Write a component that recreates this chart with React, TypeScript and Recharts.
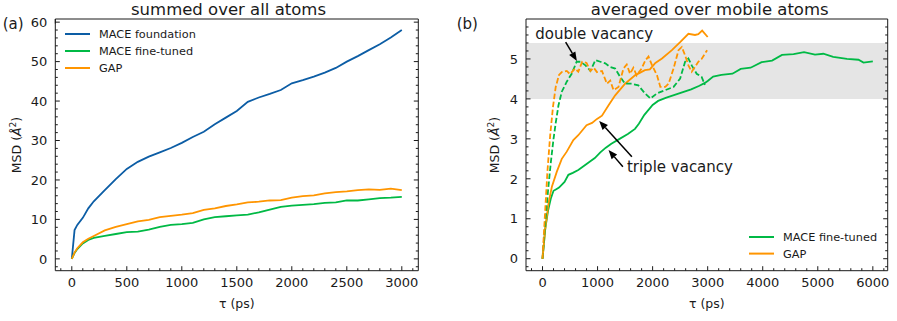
import React from 'react';
import {
  LineChart, Line, XAxis, YAxis, ReferenceArea, ReferenceLine, ReferenceDot, Legend, Label,
} from 'recharts';

// colours of the SciencePlots cycle
const BLUE = '#0C5DA5';
const GREEN = '#00B945';
const ORANGE = '#FF9500';
const INK = '#1a1a1a';
const FONT = '"DejaVu Sans", Verdana, sans-serif';

// ---- panel (a): summed over all atoms ----
const tauA = [0, 25, 50, 100, 150, 200, 300, 400, 500, 600, 700, 800, 900, 1000, 1100, 1200,
  1300, 1400, 1500, 1600, 1700, 1800, 1900, 2000, 2100, 2200, 2300, 2400, 2500, 2600, 2700, 2800, 2900, 3000];
const maceFoundationA = [0, 7.3, 8.6, 10.4, 12.8, 14.6, 17.4, 20.2, 22.8, 24.6, 25.9, 27, 28.1, 29.4, 30.9, 32.2,
  34.1, 35.8, 37.5, 39.8, 40.9, 41.8, 42.8, 44.5, 45.3, 46.2, 47.2, 48.4, 50, 51.4, 52.9, 54.4, 56.1, 58];
const maceFineTunedA = [0, 1.5, 2.5, 3.9, 4.8, 5.3, 5.8, 6.3, 6.8, 6.9, 7.4, 8.1, 8.6, 8.8, 9.1, 10,
  10.6, 10.8, 11, 11.2, 11.8, 12.5, 13.2, 13.5, 13.7, 13.9, 14.2, 14.3, 14.8, 14.8, 15.1, 15.4, 15.5, 15.7];
const gapA = [0, 1.6, 2.7, 4.2, 5.1, 5.8, 7.2, 8.1, 8.8, 9.5, 9.9, 10.6, 10.9, 11.2, 11.6, 12.4,
  12.8, 13.4, 13.8, 14.3, 14.5, 14.8, 14.9, 15.5, 15.9, 16.1, 16.6, 16.9, 17.1, 17.4, 17.6, 17.5, 17.8, 17.4];

const xMajorA = [0, 500, 1000, 1500, 2000, 2500, 3000];
const yMajorA = [0, 10, 20, 30, 40, 50, 60];

// ---- panel (b): averaged over mobile atoms ----
const tauMaceTriple = [0, 50, 100, 150, 200, 250, 300, 400, 470, 550, 650, 750, 850, 950, 1050, 1150, 1250,
  1400, 1550, 1680, 1750, 1850, 2000, 2100, 2250, 2400, 2550, 2700, 2850, 2950, 3000, 3100, 3250, 3450,
  3600, 3780, 3980, 4170, 4350, 4560, 4750, 4950, 5100, 5280, 5530, 5740, 5830, 6000];
const maceTriple = [0, 0.75, 1.2, 1.5, 1.7, 1.74, 1.78, 1.92, 2.1, 2.15, 2.22, 2.32, 2.42, 2.52, 2.66, 2.78, 2.88,
  3.0, 3.12, 3.25, 3.38, 3.6, 3.85, 3.95, 4.03, 4.1, 4.17, 4.24, 4.33, 4.4, 4.45, 4.56, 4.6, 4.63,
  4.75, 4.78, 4.92, 4.96, 5.1, 5.12, 5.17, 5.11, 5.13, 5.05, 5.0, 4.98, 4.91, 4.94];

const tauGapTriple = [0, 50, 110, 170, 260, 350, 440, 560, 650, 800, 900, 990, 1080, 1200, 1320, 1500, 1680,
  1860, 1950, 2050, 2170, 2350, 2500, 2650, 2770, 2830, 2900, 3000];
const gapTriple = [0, 0.75, 1.4, 1.8, 2.18, 2.5, 2.68, 2.97, 3.09, 3.34, 3.4, 3.5, 3.58, 3.84, 4.09, 4.38, 4.59,
  4.72, 4.74, 4.9, 5.01, 5.22, 5.42, 5.63, 5.6, 5.62, 5.71, 5.55];

const tauMaceDouble = [0, 50, 100, 150, 200, 240, 290, 350, 440, 530, 620, 690, 780, 870, 960, 1050, 1140, 1230,
  1320, 1410, 1500, 1620, 1740, 1860, 1960, 2080, 2230, 2380, 2500, 2590, 2650, 2710, 2800, 2890, 2950];
const maceDouble = [0, 0.9, 1.7, 2.4, 3.0, 3.4, 3.84, 4.18, 4.43, 4.63, 4.93, 4.93, 4.84, 4.7, 4.97, 4.93, 4.89, 4.8,
  4.76, 4.55, 4.38, 4.38, 4.34, 4.14, 4.01, 4.14, 4.22, 4.3, 4.51, 4.93, 5.01, 4.84, 4.63, 4.55, 4.35];

const tauGapDouble = [0, 40, 90, 140, 190, 240, 300, 350, 440, 500, 590, 650, 720, 800, 870, 930, 990, 1080, 1170,
  1230, 1290, 1380, 1470, 1530, 1590, 1650, 1710, 1800, 1870, 1925, 1990, 2080, 2140, 2230, 2290, 2380, 2470,
  2530, 2590, 2650, 2710, 2770, 2830, 2890, 2990];
const gapDouble = [0, 1.0, 2.2, 3.1, 3.8, 4.3, 4.6, 4.67, 4.7, 4.62, 4.76, 4.68, 4.93, 4.9, 4.7, 4.78, 4.67, 4.7, 4.38,
  4.46, 4.22, 4.3, 4.76, 4.86, 4.63, 4.78, 4.59, 4.76, 4.97, 5.06, 4.84, 4.59, 4.3, 4.3, 4.38, 4.76, 5.22,
  5.3, 5.09, 4.84, 4.68, 4.8, 4.93, 5.0, 5.22];

const xMajorB = [0, 1000, 2000, 3000, 4000, 5000, 6000];
const yMajorB = [0, 1, 2, 3, 4, 5];

const legendA = ['MACE foundation', 'MACE fine-tuned', 'GAP'];
const legendB = ['MACE fine-tuned', 'GAP'];

// ---- helpers ----
const range = (start: number, stop: number, step: number) => {
  const out: number[] = [];
  for (let i = 0; start + i * step <= stop + 1e-9; i++) out.push(+(start + i * step).toFixed(6));
  return out;
};
const zip = (xs: number[], ys: number[]) => xs.map((tau, i) => ({ tau, msd: ys[i] }));
const isIn = (list: number[], v: number) => list.some((m) => Math.abs(m - v) < 1e-6);

const rowsA = tauA.map((tau, i) => ({
  tau, foundation: maceFoundationA[i], fine: maceFineTunedA[i], gap: gapA[i],
}));

type Side = 'bottom' | 'top' | 'left' | 'right';

// inward ticks (major + minor), labels only on bottom/left majors
const makeTick = (side: Side, majors: number[]) => (p: any) => {
  const { x, y, payload } = p;
  const v = payload.value;
  const major = isIn(majors, v);
  const len = major ? 4.5 : 2.5;
  let line;
  if (side === 'bottom') line = <line x1={x} x2={x} y1={y} y2={y - len} stroke={INK} strokeWidth={1} />;
  else if (side === 'top') line = <line x1={x} x2={x} y1={y} y2={y + len} stroke={INK} strokeWidth={1} />;
  else if (side === 'left') line = <line x1={x} x2={x + len} y1={y} y2={y} stroke={INK} strokeWidth={1} />;
  else line = <line x1={x} x2={x - len} y1={y} y2={y} stroke={INK} strokeWidth={1} />;
  return (
    <g>
      {line}
      {major && side === 'bottom' && (
        <text x={x} y={y + 16} textAnchor="middle" fontSize={13} fontFamily={FONT} fill={INK}>{v}</text>
      )}
      {major && side === 'left' && (
        <text x={x - 8} y={y + 4.7} textAnchor="end" fontSize={13} fontFamily={FONT} fill={INK}>{v}</text>
      )}
    </g>
  );
};

const TopLabel = ({ title, cx, letterX }: { title: string; cx: number; letterX: number }) => (
  <g>
    <text x={cx} y={15.3} textAnchor="middle" fontSize={16.5} fontFamily={FONT} fill={INK}>{title}</text>
    <text x={letterX} y={28.7} fontSize={15} fontFamily={FONT} fill={INK}>{title.startsWith('summed') ? '(a)' : '(b)'}</text>
  </g>
);

const XLabel = ({ viewBox }: any) => (
  <text x={viewBox.x + viewBox.width / 2} y={viewBox.y + 37.5} textAnchor="middle" fontSize={12.5} fontFamily={FONT} fill={INK}>
    τ (ps)
  </text>
);

const YLabel = ({ cx }: { cx: number }) => (
  <text x={cx} y={145} transform={`rotate(-90 ${cx} 145)`} textAnchor="middle" dy="0.35em" fontSize={12.5} fontFamily={FONT} fill={INK}>
    MSD (<tspan fontStyle="italic">Å</tspan><tspan dy={-5} fontSize={9}>2</tspan><tspan dy={5}>)</tspan>
  </text>
);

const LegendBox = ({ payload, order, gap }: any) => {
  const items = [...(payload || [])]
    .filter((e: any) => order.includes(e.value))
    .sort((a: any, b: any) => order.indexOf(a.value) - order.indexOf(b.value));
  return (
    <svg width={150} height={60} style={{ display: 'block' }}>
      {items.map((e: any, i: number) => (
        <g key={e.value}>
          <line x1={5} x2={30} y1={10 + i * gap} y2={10 + i * gap} stroke={e.color} strokeWidth={2} />
          <text x={39} y={10 + i * gap} dy="0.36em" fontSize={11.3} fontFamily={FONT} fill={INK}>{e.value}</text>
        </g>
      ))}
    </svg>
  );
};

const Arrow = (p: any) => {
  const { x1, y1, x2, y2 } = p;
  const ang = Math.atan2(y2 - y1, x2 - x1);
  const hl = 9;
  const hw = 3.6;
  const bx = x2 - hl * Math.cos(ang);
  const by = y2 - hl * Math.sin(ang);
  const px = -Math.sin(ang) * hw;
  const py = Math.cos(ang) * hw;
  return (
    <g>
      <line x1={x1} y1={y1} x2={bx} y2={by} stroke="#000" strokeWidth={1.5} />
      <polygon points={`${x2},${y2} ${bx + px},${by + py} ${bx - px},${by - py}`} fill="#000" />
    </g>
  );
};

const Note = (text: string) => (p: any) => (
  <text x={p.cx} y={p.cy} fontSize={15} fontFamily={FONT} fill={INK}>{text}</text>
);

const W = 1.8;
const DASH = '5.5 2.5';

export default function App() {
  const xTicksA = range(-100, 3100, 100);
  const yTicksA = range(-2, 60, 2);
  const xTicksB = range(-200, 6200, 200);
  const yTicksB = range(-0.2, 5.8, 0.2);
  const domXA: [number, number] = [-150, 3150];
  const domYA: [number, number] = [-3, 60.8];
  const domXB: [number, number] = [-300, 6270];
  const domYB: [number, number] = [-0.3, 6.0];

  return (
    <div style={{ position: 'absolute', left: 0, top: 0, width: 897, height: 321, background: '#fff', fontFamily: FONT }}>
      <div style={{ position: 'absolute', left: 0, top: 0 }}>
        <LineChart width={440} height={321} data={rowsA} margin={{ top: 18, right: 20.7, bottom: 20.3, left: 15.3 }}>
          <XAxis dataKey="tau" type="number" domain={domXA} allowDataOverflow ticks={xTicksA} interval={0}
            tickSize={0} tickMargin={0} tickLine={false} height={30} axisLine={{ stroke: INK }}
            tick={makeTick('bottom', xMajorA)}>
            <Label content={XLabel} />
          </XAxis>
          <XAxis xAxisId="top" orientation="top" type="number" domain={domXA} allowDataOverflow ticks={xTicksA} interval={0}
            tickSize={0} tickMargin={0} tickLine={false} height={1} axisLine={{ stroke: INK }}
            tick={makeTick('top', xMajorA)}>
            <Label content={() => <TopLabel title="summed over all atoms" cx={228.5} letterX={2.7} />} />
          </XAxis>
          <YAxis type="number" domain={domYA} allowDataOverflow ticks={yTicksA} interval={0}
            tickSize={0} tickMargin={0} tickLine={false} width={40} axisLine={{ stroke: INK }}
            tick={makeTick('left', yMajorA)}>
            <Label content={() => <YLabel cx={16.3} />} />
          </YAxis>
          <YAxis yAxisId="right" orientation="right" type="number" domain={domYA} allowDataOverflow ticks={yTicksA} interval={0}
            tickSize={0} tickMargin={0} tickLine={false} width={1} axisLine={{ stroke: INK }}
            tick={makeTick('right', yMajorA)} />
          <Line dataKey="foundation" name="MACE foundation" stroke={BLUE} strokeWidth={W} dot={false} activeDot={false} isAnimationActive={false} />
          <Line dataKey="fine" name="MACE fine-tuned" stroke={GREEN} strokeWidth={W} dot={false} activeDot={false} isAnimationActive={false} />
          <Line dataKey="gap" name="GAP" stroke={ORANGE} strokeWidth={W} dot={false} activeDot={false} isAnimationActive={false} />
          <Legend layout="vertical" align="center" verticalAlign="middle"
            wrapperStyle={{ position: 'absolute', left: 60, top: 24, width: 150, height: 60 }}
            content={(p: any) => <LegendBox payload={p.payload} order={legendA} gap={17} />} />
        </LineChart>
      </div>

      <div style={{ position: 'absolute', left: 450, top: 0 }}>
        <LineChart width={447} height={321} margin={{ top: 18, right: 8.3, bottom: 20.3, left: 36 }}>
          <ReferenceArea y1={4} y2={5.4} fill="#e5e5e5" fillOpacity={1} stroke="none" />
          <XAxis dataKey="tau" type="number" domain={domXB} allowDataOverflow ticks={xTicksB} interval={0}
            tickSize={0} tickMargin={0} tickLine={false} height={30} axisLine={{ stroke: INK }}
            tick={makeTick('bottom', xMajorB)}>
            <Label content={XLabel} />
          </XAxis>
          <XAxis xAxisId="top" orientation="top" type="number" domain={domXB} allowDataOverflow ticks={xTicksB} interval={0}
            tickSize={0} tickMargin={0} tickLine={false} height={1} axisLine={{ stroke: INK }}
            tick={makeTick('top', xMajorB)}>
            <Label content={() => <TopLabel title="averaged over mobile atoms" cx={259.7} letterX={6.7} />} />
          </XAxis>
          <YAxis type="number" domain={domYB} allowDataOverflow ticks={yTicksB} interval={0}
            tickSize={0} tickMargin={0} tickLine={false} width={40} axisLine={{ stroke: INK }}
            tick={makeTick('left', yMajorB)}>
            <Label content={() => <YLabel cx={44.7} />} />
          </YAxis>
          <YAxis yAxisId="right" orientation="right" type="number" domain={domYB} allowDataOverflow ticks={yTicksB} interval={0}
            tickSize={0} tickMargin={0} tickLine={false} width={1} axisLine={{ stroke: INK }}
            tick={makeTick('right', yMajorB)} />
          <Line data={zip(tauMaceTriple, maceTriple)} dataKey="msd" name="MACE fine-tuned" stroke={GREEN} strokeWidth={W}
            dot={false} activeDot={false} isAnimationActive={false} />
          <Line data={zip(tauGapTriple, gapTriple)} dataKey="msd" name="GAP" stroke={ORANGE} strokeWidth={W}
            dot={false} activeDot={false} isAnimationActive={false} />
          <Line data={zip(tauMaceDouble, maceDouble)} dataKey="msd" name="MACE fine-tuned (double)" stroke={GREEN} strokeWidth={W}
            strokeDasharray={DASH} legendType="none" dot={false} activeDot={false} isAnimationActive={false} />
          <Line data={zip(tauGapDouble, gapDouble)} dataKey="msd" name="GAP (double)" stroke={ORANGE} strokeWidth={W}
            strokeDasharray={DASH} legendType="none" dot={false} activeDot={false} isAnimationActive={false} />
          <ReferenceLine segment={[{ x: 420, y: 5.42 }, { x: 624, y: 4.95 }]} shape={Arrow} />
          <ReferenceLine segment={[{ x: 1623, y: 2.55 }, { x: 1030, y: 3.45 }]} shape={Arrow} />
          <ReferenceLine segment={[{ x: 1460, y: 2.3 }, { x: 1199, y: 2.72 }]} shape={Arrow} />
          <ReferenceDot x={-133} y={5.51} r={0} shape={Note('double vacancy')} />
          <ReferenceDot x={1533} y={2.18} r={0} shape={Note('triple vacancy')} />
          <Legend layout="vertical" align="center" verticalAlign="middle"
            wrapperStyle={{ position: 'absolute', left: 294, top: 227, width: 150, height: 60 }}
            content={(p: any) => <LegendBox payload={p.payload} order={legendB} gap={16.6} />} />
        </LineChart>
      </div>
    </div>
  );
}
